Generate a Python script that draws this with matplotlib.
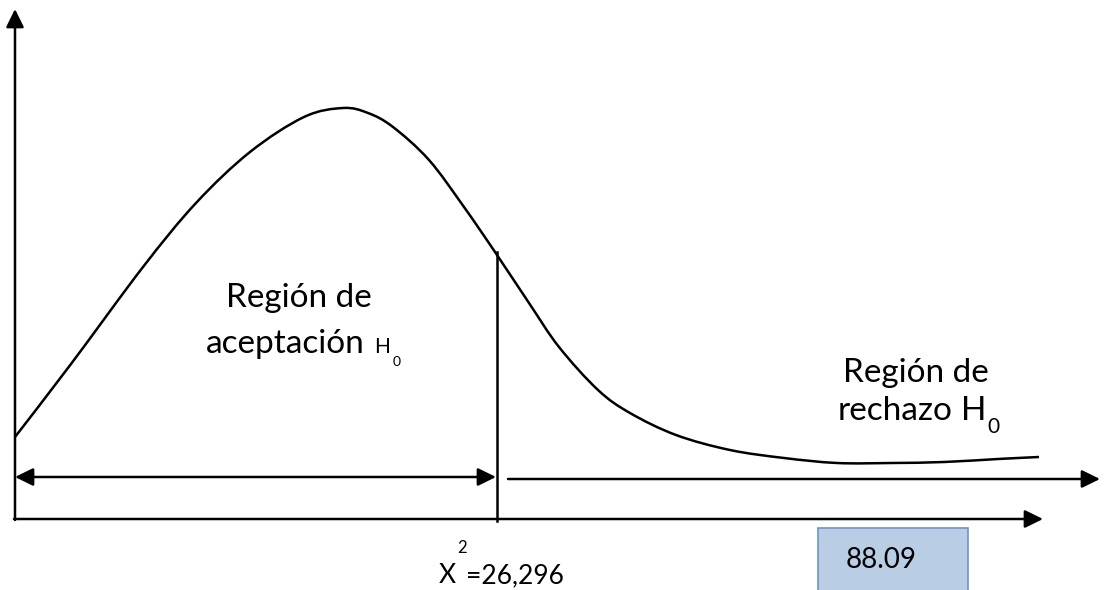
import matplotlib
matplotlib.use("Agg")
import matplotlib.pyplot as plt
from matplotlib.patches import Rectangle, PathPatch
from matplotlib.path import Path

curve_x = [15, 71, 143, 196, 250, 304, 343, 368, 393, 429, 464, 495,
           529, 559, 598, 630, 676, 730, 784, 837, 891, 944, 998, 1039]
curve_y = [437, 364, 267, 203, 152, 117, 108, 113, 127, 160, 207, 252,
           303, 347, 390, 413, 435, 450, 458, 463, 463, 462, 459, 457]

crit_x = 497          # x of the critical value line
crit_label = "=26,296"
stat_value = "88.09"

W, H = 1105, 590
plt.rcParams["font.family"] = ["Lato", "DejaVu Sans"]
fig = plt.figure(figsize=(W / 100, H / 100), dpi=100)
ax = fig.add_axes([0, 0, 1, 1])
ax.set_xlim(0, W)
ax.set_ylim(H, 0)
ax.axis("off")

lw = 1.8
big = 24

# curve: smooth cubic segments through the read points (Catmull-Rom style)
verts = [(curve_x[0], curve_y[0])]
codes = [Path.MOVETO]
n = len(curve_x)
for i in range(n - 1):
    p0 = (curve_x[max(i - 1, 0)], curve_y[max(i - 1, 0)])
    p1 = (curve_x[i], curve_y[i])
    p2 = (curve_x[i + 1], curve_y[i + 1])
    p3 = (curve_x[min(i + 2, n - 1)], curve_y[min(i + 2, n - 1)])
    c1 = (p1[0] + (p2[0] - p0[0]) / 6, p1[1] + (p2[1] - p0[1]) / 6)
    c2 = (p2[0] - (p3[0] - p1[0]) / 6, p2[1] - (p3[1] - p1[1]) / 6)
    verts += [c1, c2, p2]
    codes += [Path.CURVE4] * 3
ax.add_patch(PathPatch(Path(verts, codes), facecolor="none", edgecolor="black", lw=lw))

# critical value line, from the curve down to the x axis
crit_top = curve_y[curve_x.index(495)]
ax.plot([crit_x, crit_x], [crit_top, 521], color="black", lw=lw)


def arrow(x0, y0, x1, y1, style="-|>"):
    ax.annotate("", xy=(x1, y1), xytext=(x0, y0),
                arrowprops=dict(arrowstyle=style + ",head_length=0.55,head_width=0.27",
                                mutation_scale=20, lw=lw, color="black",
                                shrinkA=0, shrinkB=0))


# axes
arrow(15, 520, 15, 9)
arrow(14, 519, 1043, 519)

# acceptance / rejection arrows
arrow(15, 477, 496, 477, style="<|-|>")
arrow(508, 479, 1100, 479)

fig.canvas.draw()
renderer = fig.canvas.get_renderer()


def right_edge(t):
    bb = t.get_window_extent(renderer)
    return ax.transData.inverted().transform((bb.x1, bb.y0))[0]


# labels
ax.text(299, 307, "Región de", fontsize=big, ha="center", va="baseline")
t = ax.text(206, 353, "aceptación", fontsize=big, ha="left", va="baseline")
xe = right_edge(t)
t = ax.text(xe + 9, 353, "H", fontsize=15, ha="left", va="baseline")
ax.text(right_edge(t) + 3, 366, "0", fontsize=10, ha="left", va="baseline")

ax.text(916, 382, "Región de", fontsize=big, ha="center", va="baseline")
t = ax.text(895, 420, "rechazo", fontsize=big, ha="center", va="baseline")
t = ax.text(right_edge(t) + 9, 420, "H", fontsize=big, ha="left", va="baseline")
ax.text(right_edge(t) + 1, 433, "0", fontsize=15, ha="left", va="baseline")

ax.text(439, 583, "X", fontsize=19, ha="left", va="baseline")
ax.text(457, 553, "2", fontsize=12, ha="left", va="baseline")
ax.text(466, 583, crit_label, fontsize=19, ha="left", va="baseline")

# value box
ax.add_patch(Rectangle((818, 528), 150, 70, facecolor="#B9CDE5",
                       edgecolor="#6E95C9", lw=1.2))
ax.text(881, 568, stat_value, fontsize=20, ha="center", va="baseline")

fig.savefig("out.png", dpi=100)
